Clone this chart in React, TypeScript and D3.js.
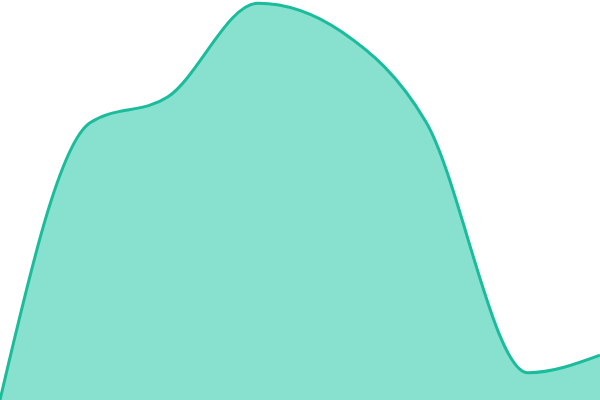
import * as d3 from 'd3';

// data
const steps = [0, 15, 28, 43, 57, 71, 88, 100];
const values = [0, 69.3, 75.8, 99.2, 92, 69.5, 6.8, 11.2];

const width = 600;
const height = 400;

export default function App() {
  const x = d3.scaleLinear().domain([0, 100]).range([0, width]);
  const y = d3.scaleLinear().domain([0, 100]).range([height, 0]);

  const area = d3
    .area<number>()
    .x((_, i) => x(steps[i]))
    .y0(height)
    .y1(d => y(d))
    .curve(d3.curveMonotoneX);

  const line = d3
    .line<number>()
    .x((_, i) => x(steps[i]))
    .y(d => y(d))
    .curve(d3.curveMonotoneX);

  return (
    <svg
      width={width}
      height={height}
      style={{ position: 'absolute', left: 0, top: 0, display: 'block' }}
    >
      <path d={area(values) ?? ''} fill="#88e0cf" />
      <path d={line(values) ?? ''} fill="none" stroke="#1abc9c" strokeWidth={3} />
    </svg>
  );
}
